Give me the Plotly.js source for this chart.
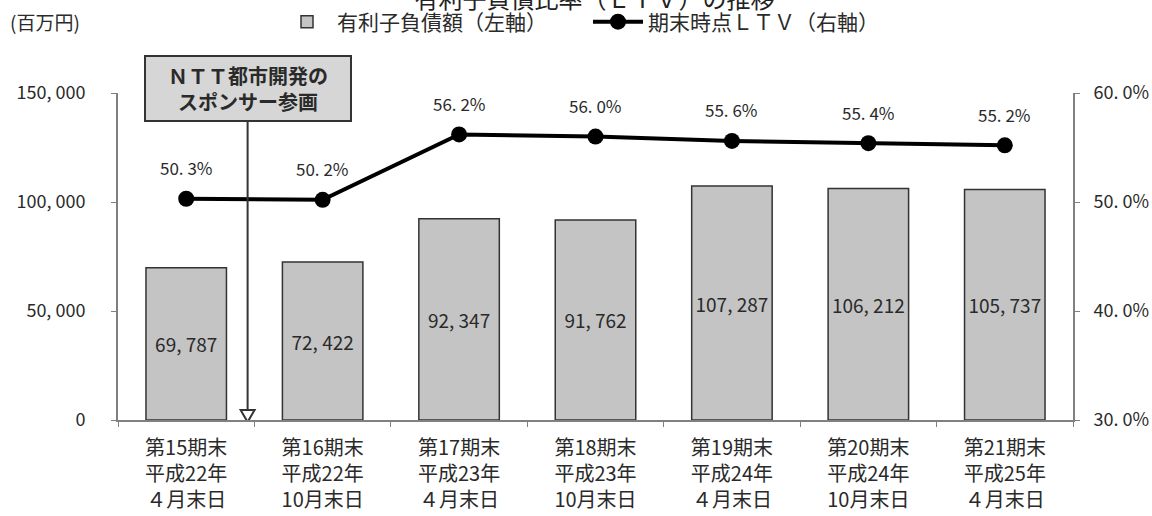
<!DOCTYPE html>
<html>
<head>
<meta charset="utf-8">
<script src="https://cdn.plot.ly/plotly-3.0.1.min.js"></script>
<style>html,body{margin:0;padding:0;background:#fff;}#chart{width:1152px;height:516px;}</style>
</head>
<body>
<div id="chart"></div>
<script>
const categories = [
  "第15期末<br>平成22年<br>４月末日",
  "第16期末<br>平成22年<br>10月末日",
  "第17期末<br>平成23年<br>４月末日",
  "第18期末<br>平成23年<br>10月末日",
  "第19期末<br>平成24年<br>４月末日",
  "第20期末<br>平成24年<br>10月末日",
  "第21期末<br>平成25年<br>４月末日"
];
const debt = [69787, 72422, 92347, 91762, 107287, 106212, 105737];
const ltv = [50.3, 50.2, 56.2, 56.0, 55.6, 55.4, 55.2];
const leftTickVals = [0, 50000, 100000, 150000];
const leftTickText = ["0", "50, 000", "100, 000", "150, 000"];
const rightTickVals = [30, 40, 50, 60];
const rightTickText = ["30. 0%", "40. 0%", "50. 0%", "60. 0%"];
const seriesNames = ["有利子負債額（左軸）", "期末時点ＬＴＶ（右軸）"];
const titleText = "有利子負債比率（ＬＴＶ）の推移";
const unitText = "(百万円)";
const noteText = "<b>ＮＴＴ都市開発の<br>スポンサー参画</b>";

const FONT = '"Noto Sans CJK JP", "Noto Sans", sans-serif';
const fmtNum = v => v.toLocaleString('en-US').replace(/,/g, ', ');
const fmtPct = v => v.toFixed(1).replace('.', '. ') + '%';

const traces = [
  {
    type: 'bar', name: seriesNames[0], x: categories, y: debt,
    width: 0.59,
    marker: {color: '#c4c4c4', line: {color: '#333333', width: 1.5}},
    text: debt.map(fmtNum), textposition: 'inside', insidetextanchor: 'middle',
    textfont: {family: FONT, size: 19, color: '#2a2a2a'},
    hoverinfo: 'skip'
  },
  {
    type: 'scatter', mode: 'lines+markers', name: seriesNames[1], x: categories, y: ltv,
    yaxis: 'y2',
    line: {color: '#000000', width: 4},
    marker: {color: '#000000', size: 16},
    hoverinfo: 'skip'
  }
];

const annotations = ltv.map((v, i) => ({
  x: categories[i], y: v, xref: 'x', yref: 'y2', text: fmtPct(v),
  showarrow: false, yshift: 31,
  font: {family: FONT, size: 17, color: '#2a2a2a'}
}));

annotations.push({
  xref: 'paper', yref: 'paper', x: -0.115, y: (420 - 22) / 327, xanchor: 'left', yanchor: 'middle',
  text: unitText, showarrow: false, font: {family: FONT, size: 19, color: '#2a2a2a'}
});

// sponsor note box with arrow down to the axis between 15th and 16th periods
annotations.push({
  xref: 'x', yref: 'y', x: 0.45, y: 4200,
  text: noteText, showarrow: true, arrowhead: 0, arrowwidth: 2, arrowcolor: '#333333',
  axref: 'pixel', ayref: 'pixel', ax: 0, ay: -322,
  bgcolor: '#d6d6d6', bordercolor: '#333333', borderwidth: 2, borderpad: 4,
  width: 196,
  font: {family: FONT, size: 20, color: '#2a2a2a'}
});

const shapes = [{
  type: 'path', xref: 'x', yref: 'y', xsizemode: 'pixel', ysizemode: 'pixel',
  xanchor: 0.45, yanchor: 0,
  path: 'M-7,10 L7,10 L0,-2 Z',
  fillcolor: '#ffffff', line: {color: '#333333', width: 2}
}];

const layout = {
  width: 1152, height: 516,
  margin: {l: 118, r: 79, t: 93, b: 96, pad: 0, autoexpand: false},
  paper_bgcolor: '#ffffff', plot_bgcolor: '#ffffff',
  font: {family: FONT, size: 16, color: '#2a2a2a'},
  title: {text: titleText, x: 0.516, xanchor: 'center', y: 1, yanchor: 'middle', yref: 'container',
          font: {family: FONT, size: 24, color: '#222222'}},
  showlegend: true,
  legend: {orientation: 'h', x: 0.1665, xanchor: 'left', y: 1 - 22 / 516, yanchor: 'middle', yref: 'container',
           itemwidth: 50, entrywidth: 246, entrywidthmode: 'pixels',
           font: {family: FONT, size: 21, color: '#2a2a2a'}, bgcolor: 'rgba(0,0,0,0)', traceorder: 'normal'},
  xaxis: {
    type: 'category', showgrid: false, zeroline: false,
    showline: true, linecolor: '#808080', linewidth: 2,
    ticks: 'outside', tickson: 'boundaries', ticklen: 5, tickcolor: '#808080',
    ticklabelstandoff: 9,
    tickfont: {family: FONT, size: 20, color: '#2a2a2a'},
    fixedrange: true
  },
  yaxis: {
    range: [0, 150000], tickvals: leftTickVals, ticktext: leftTickText,
    showgrid: false, zeroline: false, showline: true, linecolor: '#808080', linewidth: 2,
    ticks: 'outside', ticklen: 5, tickcolor: '#808080', ticklabelstandoff: 22,
    tickfont: {family: FONT, size: 18, color: '#2a2a2a'}
  },
  yaxis2: {
    overlaying: 'y', side: 'right', range: [30, 60],
    tickvals: rightTickVals, ticktext: rightTickText,
    showgrid: false, zeroline: false, showline: true, linecolor: '#808080', linewidth: 2,
    ticks: 'outside', ticklen: 5, tickcolor: '#808080', ticklabelstandoff: 10,
    tickfont: {family: FONT, size: 18, color: '#2a2a2a'}
  },
  annotations: annotations,
  shapes: shapes
};

Plotly.newPlot('chart', traces, layout, {staticPlot: true, displayModeBar: false});
</script>
</body>
</html>
